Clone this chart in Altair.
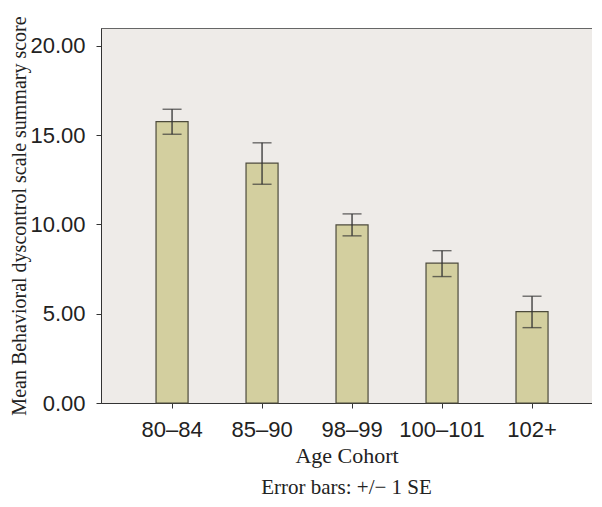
import altair as alt
import pandas as pd

cohorts = ["80–84", "85–90", "98–99", "100–101", "102+"]
means = [15.76, 13.43, 9.97, 7.83, 5.12]
upper = [16.45, 14.57, 10.59, 8.53, 5.98]
lower = [15.05, 12.25, 9.36, 7.08, 4.22]

df = pd.DataFrame({"cohort": cohorts, "mean": means, "hi": upper, "lo": lower})

serif = "Liberation Serif"
sans = "Liberation Sans"
ink = "#222222"

x = alt.X(
    "cohort:N",
    sort=cohorts,
    title="Age Cohort",
    scale=alt.Scale(paddingInner=0.644, paddingOuter=0.55, align=0.556),
    axis=alt.Axis(
        labelAngle=0, labelFont=sans, labelFontSize=22, labelColor=ink,
        labelPadding=11, tickSize=5, tickColor="#333333", domainColor="#333333",
        titleFont=serif, titleFontSize=22, titleFontWeight="normal",
        titleColor=ink, titlePadding=5,
    ),
)

yscale = alt.Scale(domain=[0, 21], nice=False)

base = alt.Chart(df)

bars = base.mark_bar(fill="#D3CF9F", stroke="#4D4B3C", strokeWidth=1.2).encode(
    x=x,
    y=alt.Y(
        "mean:Q",
        scale=yscale,
        title="Mean Behavioral dyscontrol scale summary score",
        axis=alt.Axis(
            values=[0, 5, 10, 15, 20], format=".2f", grid=False,
            tickSize=5, tickColor="#333333", domainColor="#333333",
            labelFont=sans, labelFontSize=22, labelColor=ink, labelPadding=11,
            titleFont=serif, titleFontSize=20, titleFontWeight="normal",
            titleColor=ink, titlePadding=0,
        ),
    ),
)

rules = base.mark_rule(color="#333333", strokeWidth=1.3).encode(
    x=alt.X("cohort:N", sort=cohorts),
    y=alt.Y("lo:Q", scale=yscale),
    y2="hi:Q",
)

cap_hi = base.mark_tick(size=19, thickness=1.4, color="#333333").encode(
    x=alt.X("cohort:N", sort=cohorts),
    y=alt.Y("hi:Q", scale=yscale),
)
cap_lo = base.mark_tick(size=19, thickness=1.4, color="#333333").encode(
    x=alt.X("cohort:N", sort=cohorts),
    y=alt.Y("lo:Q", scale=yscale),
)

chart = (
    alt.layer(bars, rules, cap_hi, cap_lo)
    .properties(
        width=491,
        height=375,
        padding={"left": 93, "top": 20, "right": 0, "bottom": 96},
        autosize=alt.AutoSizeParams(type="none"),
        title=alt.TitleParams(
            "Error bars: +/− 1 SE", orient="bottom", font=serif, fontSize=21,
            fontWeight="normal", color=ink, frame="group", anchor="middle",
            offset=11,
        ),
        background="white",
    )
    .configure_view(fill="#EEEBE8", stroke="#666666", strokeWidth=1)
)

chart.save("out.html", embed_options={"renderer": "svg", "actions": False})
